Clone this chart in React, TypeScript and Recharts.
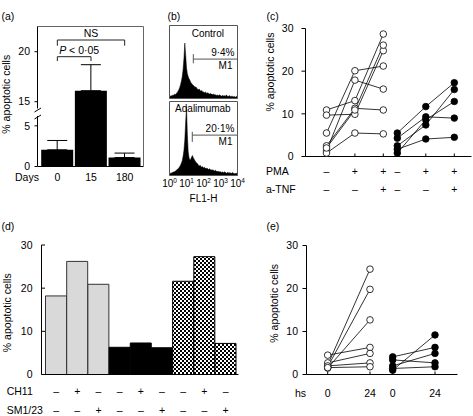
import React from "react";
import {
  BarChart,
  Bar,
  Cell,
  ErrorBar,
  AreaChart,
  Area,
  LineChart,
  Line,
  XAxis,
  YAxis,
  ReferenceLine,
  ReferenceArea,
  Label,
} from "recharts";

const FONT = '"Liberation Sans", Arial, Helvetica, sans-serif';
const FS = 10.5;
const TITLE = "% apoptotic cells";

// (a) % apoptotic cells by day, mean and SD
const days = ["0", "15", "180"];
const dayMeans = [2.05, 16.1, 1.1];
const daySds = [1.15, 2.6, 0.55];

// (b) FL1-H histograms, bins every 0.05 decade from 10^0 to 10^4
const decades = [0, 1, 2, 3, 4];
const controlCounts = [
  2, 3, 4, 3, 5, 4, 6, 5, 7, 8,
  10, 12, 15, 19, 24, 30, 40, 55, 76, 60,
  42, 34, 30, 27, 25, 22, 21, 19, 18, 17,
  15, 16, 14, 13, 12, 13, 11, 10, 11, 9,
  9, 8, 9, 8, 7, 8, 7, 6, 7, 6,
  6, 5, 6, 5, 5, 4, 5, 4, 4, 5,
  4, 3, 4, 4, 3, 4, 3, 5, 3, 3,
  3, 4, 2, 3, 3, 2, 3, 2, 2, 3, 2,
];
const adalimumabCounts = [
  2, 3, 3, 4, 4, 5, 5, 6, 7, 8,
  9, 10, 12, 14, 17, 20, 26, 34, 48, 72,
  93, 56, 32, 24, 21, 22, 25, 27, 24, 22,
  20, 18, 17, 16, 14, 13, 14, 12, 11, 12,
  10, 11, 10, 9, 10, 9, 8, 9, 8, 7,
  8, 7, 7, 6, 7, 6, 5, 6, 5, 5,
  5, 4, 5, 4, 4, 5, 4, 3, 4, 4,
  3, 4, 3, 3, 4, 3, 3, 2, 3, 3, 2,
];
const controlGate = { from: 1.4, level: 54, low: 48.2, high: 60.8 };
const adalimumabGate = { from: 1.34, level: 54.6, low: 45.4, high: 59.1 };

// (c) PMA / anti-TNF, one list per donor
const pmaSigns = ["–", "+", "+"];
const tnfSigns = ["–", "–", "+"];
const cOpen = [
  [5.5, 20.1, 21.2],
  [1.3, 17.9, 15.8],
  [0.8, 5.5, 5.3],
  [10.9, 13.1, 28.7],
  [9.7, 9.9, 24.8],
  [2.5, 11.3, 10.9],
  [2.0, 10.9, 26.1],
];
const cFilled = [
  [5.5, 11.7, 17.3],
  [4.3, 9.3, 9.0],
  [2.5, 7.4, 15.7],
  [1.7, 4.1, 4.5],
  [0.8, 8.6, 12.9],
];

// (d) CH11 / SM1/23
const ch11Signs = ["–", "+", "–", "–", "+", "–", "–", "+", "–"];
const sm123Signs = ["–", "–", "+", "–", "–", "+", "–", "–", "+"];
const dValues = [18.2, 26.2, 20.9, 6.3, 7.3, 6.2, 21.6, 27.3, 7.2];

// (e) hours
const hours = ["0", "24"];
const eOpen = [
  [2.2, 24.5],
  [1.8, 19.8],
  [1.5, 12.7],
  [4.5, 6.3],
  [2.7, 4.9],
  [2.0, 2.7],
  [1.6, 1.8],
];
const eFilled = [
  [4.1, 6.3],
  [3.4, 2.7],
  [1.0, 9.2],
  [2.0, 4.9],
  [1.4, 1.8],
];

// tables
const aData = days.map((day, i) => ({ day, mean: dayMeans[i], err: [0, daySds[i]] }));
const bData = controlCounts.map((c, i) => ({
  fl1: i * 0.05,
  control: c,
  adalimumab: adalimumabCounts[i],
}));
const donorTable = (donors: number[][]) =>
  donors[0].map((_, i) => {
    const row: any = { cond: i };
    donors.forEach((d, k) => (row[`d${k}`] = d[i]));
    return row;
  });
const dData = dValues.map((v, i) => ({ cond: i, v }));

const dFill = ["#d9d9d9", "#d9d9d9", "#d9d9d9", "#000", "#000", "#000", "url(#checker)", "url(#checker)", "url(#checker)"];
const dStroke = ["#333", "#333", "#333", "#000", "#000", "#000", "#000", "#000", "#000"];

const txt = { fontFamily: FONT, fontSize: FS, fill: "#000" };

function RowTick(props: any) {
  const { x, y, index, rows } = props;
  return (
    <g>
      {rows.map((r: any, k: number) => (
        <text key={k} x={x} y={y + r.dy} dy="0.35em" textAnchor="middle" {...txt}>
          {r.labels[index]}
        </text>
      ))}
    </g>
  );
}

function RowHeads(props: any) {
  const { viewBox, px, heads } = props;
  return (
    <g>
      {heads.map((r: any, k: number) => (
        <text key={k} x={px} y={viewBox.y + r.dy} dy="0.35em" {...txt}>
          {r.text}
        </text>
      ))}
    </g>
  );
}

function YTitle(props: any) {
  const { viewBox, px, shift } = props;
  const cy = viewBox.y + viewBox.height / 2 + shift;
  return (
    <text x={px} y={cy} dy="0.35em" textAnchor="middle" transform={`rotate(-90 ${px} ${cy})`} {...txt}>
      {TITLE}
    </text>
  );
}

function BracketText(props: any) {
  const { viewBox, shiftX, italicP } = props;
  const x = viewBox.x + viewBox.width / 2 + shiftX;
  return (
    <text x={x} y={viewBox.y - 6.7} dy="0.35em" textAnchor="middle" {...txt}>
      {italicP ? (
        <>
          <tspan fontStyle="italic">P</tspan> {"< 0·05"}
        </>
      ) : (
        "NS"
      )}
    </text>
  );
}

function HistText(props: any) {
  const { viewBox, name, nameDx, nameDy, pct } = props;
  const { x, y, width } = viewBox;
  const t = { fontFamily: FONT, fontSize: 10, fill: "#000" };
  return (
    <g>
      <text x={x + width / 2 + nameDx} y={y + nameDy} dy="0.35em" textAnchor="middle" {...t}>
        {name}
      </text>
      <text x={x + width - 3} y={y + 27} dy="0.35em" textAnchor="end" {...t}>
        {pct}
      </text>
      <text x={x + width - 5} y={y + 40} dy="0.35em" textAnchor="end" {...t}>
        M1
      </text>
    </g>
  );
}

function DecadeTick(props: any) {
  const { x, y, payload } = props;
  return (
    <text x={x} y={y} dy={7.7} textAnchor="middle" fontFamily={FONT} fontSize={10} fill="#000">
      10
      <tspan dy={-4} fontSize={6.5}>
        {payload.value}
      </tspan>
    </text>
  );
}

function AxisTitle(props: any) {
  const { viewBox, text, dy } = props;
  return (
    <text x={viewBox.x + viewBox.width / 2} y={viewBox.y + dy} dy="0.35em" textAnchor="middle" fontFamily={FONT} fontSize={10} fill="#000">
      {text}
    </text>
  );
}

const brackets = [
  { from: "0", to: "180", top: 21.17, foot: 20.6, shiftX: 0, italicP: false },
  { from: "0", to: "15", top: 19.5, foot: 19.07, shiftX: 5, italicP: true },
];

// right-hand frame line of panel (a)
function FrameRight() {
  return <YAxis yAxisId="r" orientation="right" width={1} domain={[0, 1]} tick={false} tickLine={false} stroke="#666" />;
}

function PanelA() {
  return (
    <>
      <div style={{ position: "absolute", left: 0, top: 0 }}>
        <BarChart width={150} height={112} data={aData} margin={{ top: 25.5, right: 5.5, bottom: 0, left: 0 }} barCategoryGap={0.7}>
          <XAxis dataKey="day" height={0} padding={{ left: 3, right: 2 }} axisLine={false} tickLine={false} tick={false} />
          <XAxis xAxisId="top" dataKey="day" orientation="top" height={1} tick={false} tickLine={false} stroke="#666" />
          <YAxis width={37.5} domain={[13.97, 22.52]} allowDataOverflow ticks={[15, 20]} interval={0} tickSize={3} tickMargin={4.5} stroke="#000" tick={txt} />
          {FrameRight()}
          <Bar dataKey="mean" fill="#000" isAnimationActive={false}>
            <ErrorBar dataKey="err" width={10} stroke="#000" strokeWidth={1} />
          </Bar>
          {brackets.map((b, i) => [
            <ReferenceLine
              key={`t${i}`}
              segment={[{ x: b.from, y: b.top }, { x: b.to, y: b.top }]}
              stroke="#222"
              label={<BracketText shiftX={b.shiftX} italicP={b.italicP} />}
            />,
            <ReferenceLine key={`l${i}`} segment={[{ x: b.from, y: b.top }, { x: b.from, y: b.foot }]} stroke="#222" />,
            <ReferenceLine key={`r${i}`} segment={[{ x: b.to, y: b.top }, { x: b.to, y: b.foot }]} stroke="#222" />,
          ])}
        </BarChart>
      </div>
      <div style={{ position: "absolute", left: 0, top: 40 }}>
        <BarChart width={150} height={150} data={aData} margin={{ top: 72, right: 5.5, bottom: 3.5, left: 0 }} barCategoryGap={0.7}>
          <XAxis
            dataKey="day"
            height={20}
            padding={{ left: 3, right: 2 }}
            stroke="#000"
            tickLine={false}
            tickSize={0}
            tickMargin={0}
            interval={0}
            tick={<RowTick rows={[{ labels: days, dy: 10.5 }]} />}
          >
            <Label content={<RowHeads px={15} heads={[{ text: "Days", dy: 11 }]} />} />
          </XAxis>
          <YAxis width={37.5} domain={[0, 6.7]} allowDataOverflow ticks={[0, 5]} interval={0} tickSize={3} tickMargin={4.5} stroke="#000" tick={txt}>
            <Label content={<YTitle px={6.7} shift={-45} />} />
          </YAxis>
          {FrameRight()}
          <Bar dataKey="mean" fill="#000" isAnimationActive={false}>
            <ErrorBar dataKey="err" width={10} stroke="#000" strokeWidth={1} />
          </Bar>
        </BarChart>
      </div>
      <svg width={20} height={25} style={{ position: "absolute", left: 30, top: 100 }}>
        <rect x={5.5} y={8.5} width={4.5} height={7.5} fill="#fff" />
        <line x1={4.5} y1={12} x2={11} y2={8} stroke="#000" />
        <line x1={4.5} y1={19} x2={11} y2={15} stroke="#000" />
      </svg>
    </>
  );
}

function HistAxes() {
  return [
    <YAxis
      key="y"
      mirror
      width={1}
      domain={[0, 100]}
      ticks={[0, 10, 20, 30, 40, 50, 60, 70, 80, 90, 100]}
      interval={0}
      tick={false}
      axisLine={false}
      tickSize={2.5}
      stroke="#444"
    />,
  ];
}

function PanelB() {
  return (
    <>
      <div style={{ position: "absolute", left: 150, top: 0 }}>
        <AreaChart width={100} height={100} data={bData} margin={{ top: 25.5, right: 12.5, bottom: 1.5, left: 19.5 }}>
          <XAxis type="number" dataKey="fl1" domain={[0, 4]} hide />
          {HistAxes()}
          <Area dataKey="control" type="linear" fill="#000" fillOpacity={1} stroke="#000" strokeWidth={0.5} dot={false} isAnimationActive={false} />
          <ReferenceLine segment={[{ x: controlGate.from, y: controlGate.level }, { x: 4, y: controlGate.level }]} stroke="#555" />
          <ReferenceLine segment={[{ x: controlGate.from, y: controlGate.low }, { x: controlGate.from, y: controlGate.high }]} stroke="#555" />
          <ReferenceArea x1={0} x2={4} y1={0} y2={100} fill="none" stroke="#555" strokeWidth={1}
            label={<HistText name="Control" nameDx={4.3} nameDy={8} pct="9·4%" />} />
        </AreaChart>
      </div>
      <div style={{ position: "absolute", left: 150, top: 95 }}>
        <AreaChart width={100} height={110} data={bData} margin={{ top: 6.5, right: 12.5, bottom: 0, left: 19.5 }}>
          <XAxis
            type="number"
            dataKey="fl1"
            domain={[0, 4]}
            ticks={decades}
            interval={0}
            height={29.5}
            axisLine={false}
            tickLine={false}
            tickSize={0}
            tickMargin={3.5}
            tick={<DecadeTick />}
          >
            <Label content={<AxisTitle text="FL1-H" dy={22.5} />} />
          </XAxis>
          {HistAxes()}
          <Area dataKey="adalimumab" type="linear" fill="#000" fillOpacity={1} stroke="#000" strokeWidth={0.5} dot={false} isAnimationActive={false} />
          <ReferenceLine segment={[{ x: adalimumabGate.from, y: adalimumabGate.level }, { x: 4, y: adalimumabGate.level }]} stroke="#555" />
          <ReferenceLine segment={[{ x: adalimumabGate.from, y: adalimumabGate.low }, { x: adalimumabGate.from, y: adalimumabGate.high }]} stroke="#555" />
          <ReferenceArea x1={0} x2={4} y1={0} y2={100} fill="none" stroke="#555" strokeWidth={1}
            label={<HistText name="Adalimumab" nameDx={-0.6} nameDy={6.5} pct="20·1%" />} />
        </AreaChart>
      </div>
    </>
  );
}

function donorLines(donors: number[][], filled: boolean) {
  return donors.map((_, k) => (
    <Line
      key={k}
      dataKey={`d${k}`}
      type="linear"
      stroke="#000"
      strokeWidth={0.8}
      dot={{ r: 3.3, fill: filled ? "#000" : "#fff", stroke: "#000", strokeWidth: 0.8 }}
      activeDot={false}
      isAnimationActive={false}
    />
  ));
}

const cRows = [
  { labels: pmaSigns, dy: 15 },
  { labels: tnfSigns, dy: 33.3 },
];

function PanelC() {
  return (
    <>
      <div style={{ position: "absolute", left: 260, top: 0 }}>
        <LineChart width={213} height={205} data={donorTable(cOpen)} margin={{ top: 28.5, right: 1.5, bottom: 3.5, left: 0 }}>
          <XAxis dataKey="cond" height={45} padding={{ left: 21, right: 88.2 }} stroke="#000" tickSize={-3} tickMargin={3} interval={0} tick={<RowTick rows={cRows} />}>
            <Label content={<RowHeads px={6} heads={[{ text: "PMA", dy: 15 }, { text: "a-TNF", dy: 33.3 }]} />} />
          </XAxis>
          <YAxis width={45.5} domain={[0, 30]} ticks={[0, 10, 20, 30]} interval={0} tickSize={4} tickMargin={8} stroke="#000" tick={txt}>
            <Label content={<YTitle px={10} shift={-20.5} />} />
          </YAxis>
          {donorLines(cOpen, false)}
        </LineChart>
      </div>
      <div style={{ position: "absolute", left: 260, top: 0 }}>
        <LineChart width={213} height={205} data={donorTable(cFilled)} margin={{ top: 28.5, right: 1.5, bottom: 3.5, left: 45.5 }}>
          <XAxis dataKey="cond" height={45} padding={{ left: 91.8, right: 17.2 }} stroke="#000" axisLine={false} tickSize={-3} tickMargin={3} interval={0} tick={<RowTick rows={cRows} />} />
          <YAxis hide domain={[0, 30]} />
          {donorLines(cFilled, true)}
        </LineChart>
      </div>
    </>
  );
}

function PanelD() {
  return (
    <div style={{ position: "absolute", left: 0, top: 210 }}>
      <BarChart width={250} height={206} data={dData} margin={{ top: 35, right: 11.5, bottom: 1.5, left: 0 }} barCategoryGap={0}>
        <defs>
          <pattern id="checker" width={4} height={4} patternUnits="userSpaceOnUse">
            <rect width={4} height={4} fill="#fff" />
            <rect width={2} height={2} fill="#000" />
            <rect x={2} y={2} width={2} height={2} fill="#000" />
          </pattern>
        </defs>
        <XAxis
          dataKey="cond"
          height={40}
          padding={{ left: 4, right: 2.3 }}
          stroke="#000"
          tickLine={false}
          tickSize={0}
          tickMargin={0}
          interval={0}
          tick={<RowTick rows={[{ labels: ch11Signs, dy: 17.2 }, { labels: sm123Signs, dy: 35.5 }]} />}
        >
          <Label content={<RowHeads px={6.7} heads={[{ text: "CH11", dy: 17.2 }, { text: "SM1/23", dy: 35.5 }]} />} />
        </XAxis>
        <YAxis width={41.5} domain={[0, 30]} ticks={[0, 10, 20, 30]} interval={0} tickSize={-3.5} tickMargin={12.5} stroke="#000" tick={txt}>
          <Label content={<YTitle px={7.5} shift={3} />} />
        </YAxis>
        <Bar dataKey="v" isAnimationActive={false}>
          {dValues.map((_, i) => (
            <Cell key={i} fill={dFill[i]} stroke={dStroke[i]} strokeWidth={1} />
          ))}
        </Bar>
      </BarChart>
    </div>
  );
}

function PanelE() {
  const rows = [{ labels: hours, dy: 19 }];
  return (
    <>
      <div style={{ position: "absolute", left: 260, top: 210 }}>
        <LineChart width={213} height={206} data={donorTable(eOpen)} margin={{ top: 35.5, right: 15.5, bottom: 1.5, left: 0 }}>
          <XAxis dataKey="cond" height={40} padding={{ left: 21.2, right: 87.5 }} stroke="#000" tickSize={-3} tickMargin={3} interval={0} tick={<RowTick rows={rows} />}>
            <Label content={<RowHeads px={35} heads={[{ text: "hs", dy: 19 }]} />} />
          </XAxis>
          <YAxis width={46.5} domain={[0, 30]} ticks={[0, 10, 20, 30]} interval={0} tickSize={4} tickMargin={4.5} stroke="#000" tick={txt}>
            <Label content={<YTitle px={14} shift={-6.7} />} />
          </YAxis>
          {donorLines(eOpen, false)}
        </LineChart>
      </div>
      <div style={{ position: "absolute", left: 260, top: 210 }}>
        <LineChart width={213} height={206} data={donorTable(eFilled)} margin={{ top: 35.5, right: 15.5, bottom: 1.5, left: 46.5 }}>
          <XAxis dataKey="cond" height={40} padding={{ left: 86.2, right: 22.5 }} stroke="#000" axisLine={false} tickSize={-3} tickMargin={3} interval={0} tick={<RowTick rows={rows} />} />
          <YAxis hide domain={[0, 30]} />
          {donorLines(eFilled, true)}
        </LineChart>
      </div>
    </>
  );
}

const letters = [
  { t: "(a)", x: 1.5, y: 9.5 },
  { t: "(b)", x: 167.5, y: 9.5 },
  { t: "(c)", x: 266.5, y: 9.5 },
  { t: "(d)", x: 1.5, y: 219.5 },
  { t: "(e)", x: 266.5, y: 219.5 },
];

export default function App() {
  return (
    <div style={{ position: "absolute", left: 0, top: 0, width: 473, height: 416, background: "#fff", fontFamily: FONT, overflow: "hidden" }}>
      <PanelA />
      <PanelB />
      <PanelC />
      <PanelD />
      <PanelE />
      {letters.map((l) => (
        <div key={l.t} style={{ position: "absolute", left: l.x, top: l.y, fontSize: FS, lineHeight: "12px" }}>
          {l.t}
        </div>
      ))}
    </div>
  );
}
